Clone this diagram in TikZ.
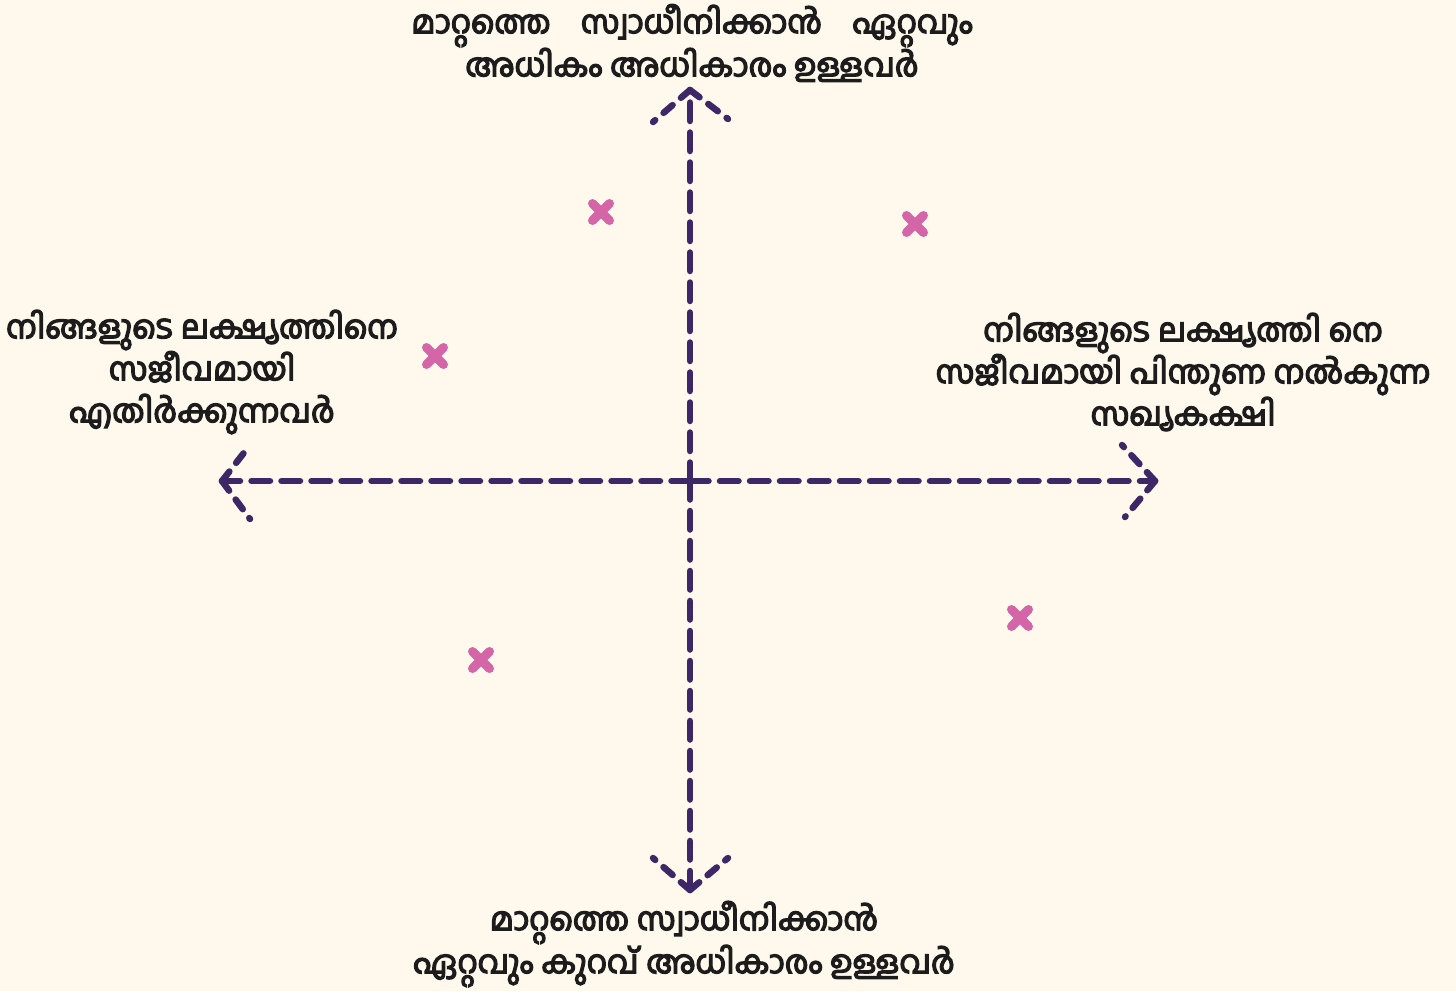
\documentclass[tikz,border=0pt]{standalone}
\usepackage{fontspec}
\newfontfamily\mlfont[Script=Malayalam, FakeBold=4]{Hind Kochi}
\definecolor{bg}{HTML}{FEF9EC}
\definecolor{axiscol}{HTML}{3D2766}
\definecolor{markcol}{HTML}{D466A8}
\definecolor{txt}{HTML}{1C1C1C}
\tikzset{
  axisline/.style={draw=axiscol, line width=6.5pt, line cap=round, dash pattern=on 18.5pt off 11.5pt},
  wing/.style={draw=axiscol, line width=6.5pt, line cap=round, dash pattern=on 12pt off 11pt},
  lbl/.style={text=txt, align=center, font=\mlfont\fontsize{32}{42}\selectfont, inner sep=0pt},
  cross/.style={draw=markcol, line width=9pt, line cap=round}
}
\newcommand{\xmark}[2]{%
  \coordinate (#1) at #2;
  \draw[cross] ($(#1)+(-8.5,-8.5)$) -- ($(#1)+(8.5,8.5)$);
  \draw[cross] ($(#1)+(-8.5,8.5)$) -- ($(#1)+(8.5,-8.5)$);
}
\usetikzlibrary{calc}
\begin{document}
\begin{tikzpicture}[x=1pt,y=-1pt]
\path[fill=bg] (0,0) rectangle (1456,991);
\useasboundingbox (0,0) rectangle (1456,991);
% axes
\coordinate (O) at (690,481);
\coordinate (L) at (222,481);
\coordinate (R) at (1155,481);
\coordinate (T) at (690,90);
\coordinate (B) at (690,890);
\coordinate (Lu) at (250,445);
\coordinate (Ld) at (250,519);
\coordinate (Ru) at (1122,445);
\coordinate (Rd) at (1125,517);
\coordinate (Tl) at (653,122);
\coordinate (Tr) at (728,119);
\coordinate (Bl) at (653,858);
\coordinate (Br) at (728,858);
\draw[axisline] (O) -- (L);
\draw[axisline] (O) -- (R);
\draw[axisline] (O) -- (T);
\draw[axisline] (O) -- (B);
\draw[wing] (L) -- (Lu); \draw[wing] (L) -- (Ld);
\draw[wing] (R) -- (Ru); \draw[wing] (R) -- (Rd);
\draw[wing] (T) -- (Tl); \draw[wing] (T) -- (Tr);
\draw[wing] (B) -- (Bl); \draw[wing] (B) -- (Br);
% markers
\xmark{m1}{(601,212)}
\xmark{m2}{(915,224)}
\xmark{m3}{(435,356)}
\xmark{m4}{(481,660)}
\xmark{m5}{(1020,618)}
% labels
\node[lbl] (top) at (692,43) {മാറ്റത്തെ\hspace{0.7em} സ്വാധീനിക്കാൻ\hspace{0.7em} ഏറ്റവും\\അധികം അധികാരം ഉള്ളവർ};
\node[lbl] (left) at (202,372) {നിങ്ങളുടെ ലക്ഷ്യത്തിനെ\\സജീവമായി\\എതിർക്കുന്നവർ};
\node[lbl] (right) at (1183,372) {നിങ്ങളുടെ ലക്ഷ്യത്തി നെ\\സജീവമായി പിന്തുണ നൽകുന്ന\\സഖ്യകക്ഷി};
\node[lbl] (bottom) at (684,944) {മാറ്റത്തെ സ്വാധീനിക്കാൻ\\ഏറ്റവും കുറവ് അധികാരം ഉള്ളവർ};
\end{tikzpicture}
\end{document}
